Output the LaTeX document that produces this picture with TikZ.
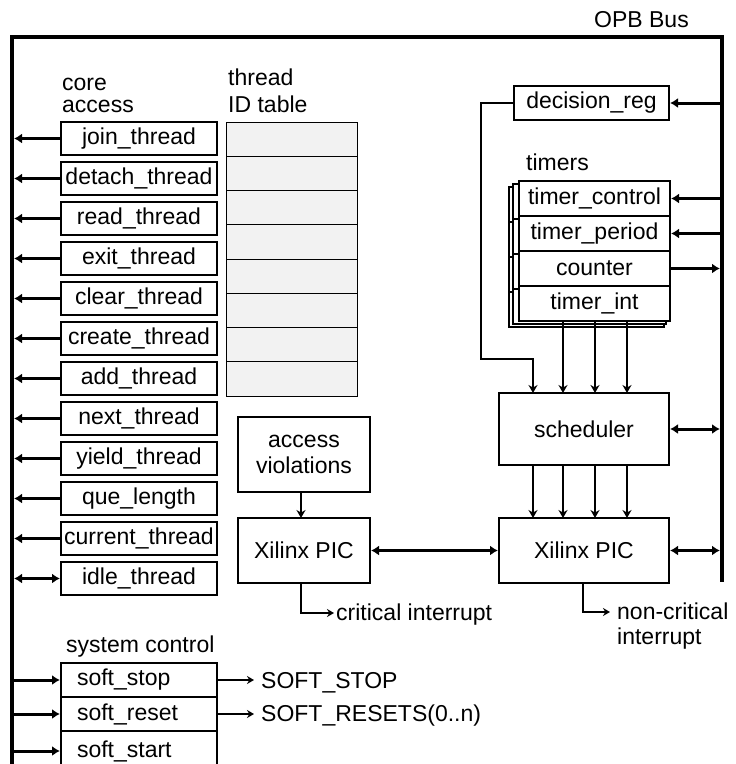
\documentclass[tikz,border=0pt]{standalone}
\usepackage{fontspec}
\setmainfont{Liberation Sans}
\usetikzlibrary{arrows.meta}
\begin{document}
\begin{tikzpicture}[x=1pt,y=-1pt,
  font=\fontsize{23}{26}\selectfont,
  bus/.style={line width=4pt, line join=miter},
  box/.style={draw, line width=2.5pt, fill=white, inner sep=0pt, outer sep=0pt},
  box2/.style={box, line width=2pt},
  cbox/.style={box, minimum width=156pt, minimum height=33pt},
  sbox/.style={box, minimum width=156pt, minimum height=34pt, text width=124pt, align=left},
  cell/.style={draw, line width=0.8pt, fill=black!5, minimum width=131pt, minimum height=34.25pt, inner sep=0pt, outer sep=0pt},
  shad/.style={draw, line width=1.2pt, fill=white},
  tarr/.style={line width=3pt, -{Latex[length=8pt,width=10pt]}},
  tdarr/.style={line width=3pt, {Latex[length=8pt,width=10pt]}-{Latex[length=8pt,width=10pt]}},
  narr/.style={line width=1.3pt, -{Stealth[length=8pt,width=9pt]}},
  warr/.style={line width=2.5pt, -{Stealth[length=8pt,width=9pt]}},
  lbl/.style={inner sep=0pt, anchor=base west},
]
\useasboundingbox (0,0) rectangle (736,764);
\clip (0,0) rectangle (736,764);

% bus
\coordinate (bTL) at (12,37);
\coordinate (bTR) at (722,37);
\coordinate (bBR) at (722,582);
\coordinate (bBL) at (12,770);
\draw[bus] (bBL) -- (bTL) -- (bTR) -- (bBR);
\node[lbl] (opb) at (594,27) {OPB Bus};

% core access
\node[lbl] (ca1) at (62,90) {core};
\node[lbl] (ca2) at (62,112) {access};
\foreach \txt [count=\i from 0] in {join\_thread,detach\_thread,read\_thread,exit\_thread,clear\_thread,create\_thread,add\_thread,next\_thread,yield\_thread,que\_length,current\_thread}{
  \node[cbox] (c\i) at (139,{138.5+40*\i}) {\txt};
  \draw[tarr, shorten >=2pt] (c\i.west) -- (c\i.west -| bTL);
}
\node[cbox] (c11) at (139,578.5) {idle\_thread};
\draw[tdarr, shorten >=2pt, shorten <=1pt] (c11.west) -- (c11.west -| bTL);

% thread ID table
\node[lbl] (th1) at (228,85) {thread};
\node[lbl] (th2) at (228,112) {ID table};
\foreach \i in {0,...,7}{
  \node[cell] (t\i) at (291.5,{139.125+34.25*\i}) {};
}

% decision reg
\node[box, minimum width=155pt, minimum height=34pt] (dec) at (591.5,103) {decision\_reg};
\draw[tarr, shorten <=2pt, shorten >=1pt] (dec.east -| bTR) -- (dec.east);

% timers
\node[lbl] (tim) at (526,170) {timers};
\foreach \nm/\txt/\cy in {tc/timer\_control/198.5, tp/timer\_period/233.5, cnt/counter/268.5, ti/timer\_int/303.5}{
  \draw[shad] (509,{\cy-17.5+6}) rectangle (664,{\cy+17.5+6});
  \draw[shad] (513,{\cy-17.5+3}) rectangle (666,{\cy+17.5+3});
  \node[box, minimum width=151pt, minimum height=35pt] (\nm) at (594.5,\cy) {\txt};
}
\draw[tarr, shorten <=2pt, shorten >=1pt] (tc.east -| bTR) -- (tc.east);
\draw[tarr, shorten <=2pt, shorten >=1pt] (tp.east -| bTR) -- (tp.east);
\draw[tarr, shorten <=1pt, shorten >=2pt] (cnt.east) -- (cnt.east -| bTR);

% scheduler
\node[box, minimum width=170pt, minimum height=72pt] (sch) at (584,429) {scheduler};
\draw[tdarr, shorten <=1pt, shorten >=2pt] (sch.east) -- (sch.east -| bTR);

\coordinate (xa) at (533,0);
\coordinate (xb) at (563,0);
\coordinate (xc) at (595,0);
\coordinate (xd) at (627,0);
\coordinate (dcor) at (481,359);

\draw[warr, line join=miter] (dec.west) -| (dcor) -| (sch.north -| xa);
\draw[narr] (ti.south -| xb) -- (sch.north -| xb);
\draw[warr] (ti.south -| xc) -- (sch.north -| xc);
\draw[narr] (ti.south -| xd) -- (sch.north -| xd);

% right PIC
\node[box, minimum width=170pt, minimum height=65pt] (pic2) at (584,550.5) {Xilinx PIC};
\draw[tdarr, shorten <=1pt, shorten >=2pt] (pic2.east) -- (pic2.east -| bTR);
\draw[narr] (sch.south -| xa) -- (pic2.north -| xa);
\draw[narr] (sch.south -| xb) -- (pic2.north -| xb);
\draw[narr] (sch.south -| xc) -- (pic2.north -| xc);
\draw[warr] (sch.south -| xd) -- (pic2.north -| xd);

% access violations and left PIC
\node[box2, minimum width=132pt, minimum height=75pt, align=center] (acc) at (304,454.5) {access\\violations};
\node[box2, minimum width=132pt, minimum height=65pt] (pic1) at (304,550.5) {Xilinx PIC};
\coordinate (xv) at (301,0);
\draw[narr] (acc.south -| xv) -- (pic1.north -| xv);
\draw[tdarr, shorten <=1pt, shorten >=1pt] (pic1.east) -- (pic2.west);

% interrupts
\coordinate (crit) at (334,613);
\draw[line width=2pt, -{Stealth[length=7pt,width=8pt]}] (pic1.south -| xv) |- (crit);
\node[lbl] (critl) at (336,620) {critical interrupt};
\coordinate (xn) at (583,0);
\coordinate (ncrit) at (610,612);
\draw[line width=2pt, -{Stealth[length=7pt,width=8pt]}] (pic2.south -| xn) |- (ncrit);
\node[lbl] (nc1) at (617,619) {non-critical};
\node[lbl] (nc2) at (617,644) {interrupt};

% system control
\node[lbl] (sys) at (66,652) {system control};
\node[sbox] (ss1) at (139,680) {soft\_stop};
\node[sbox] (ss2) at (139,714) {soft\_reset};
\node[sbox, minimum height=40pt] (ss3) at (139,751) {soft\_start};
\foreach \s in {ss1,ss2,ss3}{
  \draw[tarr, shorten <=2pt, shorten >=1pt] (\s.west -| bTL) -- (\s.west);
}
\coordinate (so) at (254,0);
\draw[line width=2.5pt, -{Stealth[length=7pt,width=8pt]}] (ss1.east) -- (ss1.east -| so);
\draw[line width=2.5pt, -{Stealth[length=7pt,width=8pt]}] (ss2.east) -- (ss2.east -| so);
\node[lbl] (o1) at (261,688) {SOFT\_STOP};
\node[lbl] (o2) at (261,721) {SOFT\_RESETS(0..n)};
\end{tikzpicture}
\end{document}
